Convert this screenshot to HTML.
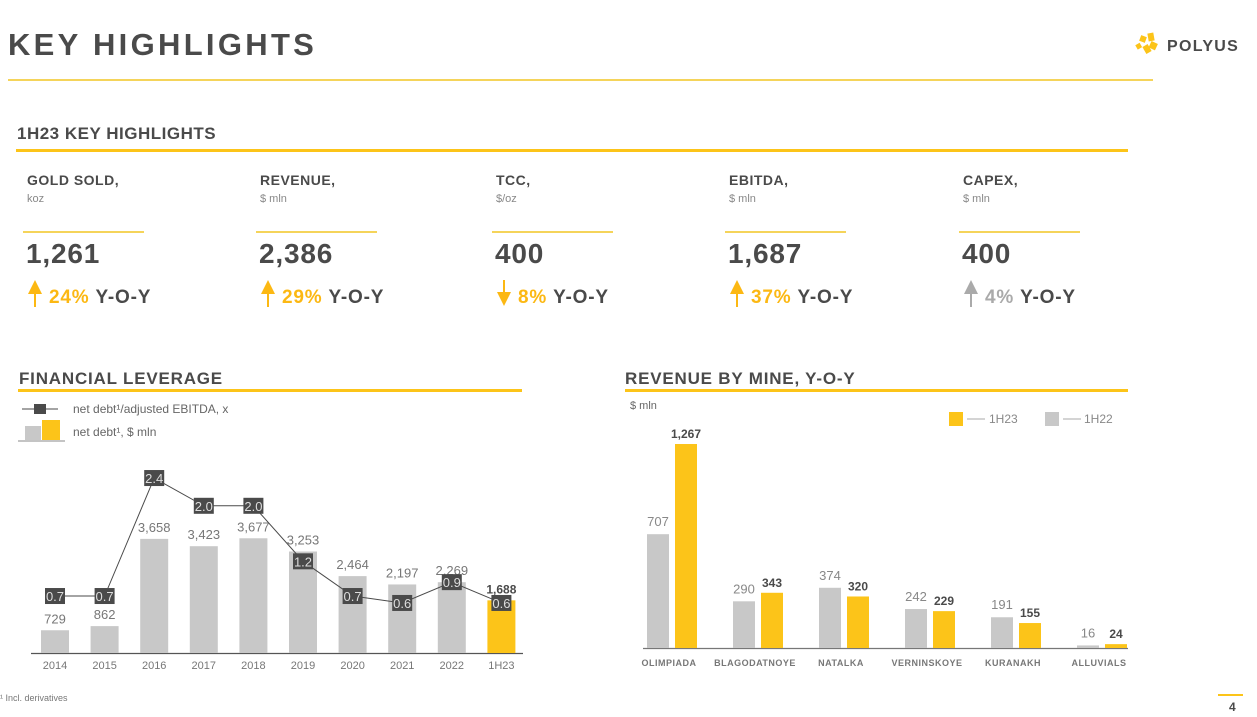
<!DOCTYPE html>
<html><head><meta charset="utf-8"><style>
body{margin:0;background:#fff;}
svg{display:block;font-family:"Liberation Sans",sans-serif;}
</style></head><body>
<svg id="page" width="1257" height="717" viewBox="0 0 1257 717">
<text x="8" y="55" font-size="31" font-weight="bold" fill="#4a4a4a" letter-spacing="3.3">KEY HIGHLIGHTS</text>
<g>
<rect x="1140" y="36" width="6" height="6" fill="#fcc419" transform="rotate(20 1143 39)"/>
<rect x="1148" y="33" width="6" height="8" fill="#fcc419" transform="rotate(-10 1151 37)"/>
<rect x="1150" y="42" width="7" height="7" fill="#fcc419" transform="rotate(25 1153 45)"/>
<rect x="1144" y="45" width="6" height="8" fill="#fcc419" transform="rotate(-30 1147 49)"/>
<rect x="1136" y="44" width="5" height="5" fill="#fcc419" transform="rotate(-30 1138 46)"/>
<text x="1167" y="51" font-size="16" font-weight="bold" fill="#4a4a4a" letter-spacing="1.3">POLYUS</text>
</g>
<rect x="8" y="79" width="1145" height="2" fill="#f5d45a"/>
<text x="17" y="139" font-size="17" font-weight="bold" fill="#4a4a4a" letter-spacing="0.5">1H23 KEY HIGHLIGHTS</text>
<rect x="16" y="149" width="1112" height="3" fill="#fcc419"/>
<g id="kpis"></g>
<text x="19" y="384" font-size="17" font-weight="bold" fill="#4a4a4a" letter-spacing="0.8">FINANCIAL LEVERAGE</text>
<rect x="18" y="389" width="504" height="3" fill="#fcc419"/>
<text x="625" y="384" font-size="17" font-weight="bold" fill="#4a4a4a" letter-spacing="0.8">REVENUE BY MINE, Y-O-Y</text>
<rect x="625" y="389" width="503" height="3" fill="#fcc419"/>
<g>
<line x1="22" y1="409" x2="58" y2="409" stroke="#4a4a4a" stroke-width="1"/>
<rect x="34" y="404" width="12" height="10" fill="#4a4a4a"/>
<text x="73" y="413" font-size="12" fill="#666">net debt¹/adjusted EBITDA, x</text>
<rect x="25" y="426" width="16" height="14" fill="#c8c8c8"/>
<rect x="42" y="420" width="18" height="20" fill="#fcc419"/>
<line x1="18" y1="441" x2="65" y2="441" stroke="#888"/>
<text x="73" y="436" font-size="12" fill="#666">net debt¹, $ mln</text>
</g>
<g id="lev"></g>
<text x="630" y="409" font-size="11" fill="#666">$ mln</text>
<g>
<rect x="949" y="412" width="14" height="14" fill="#fcc419"/>
<line x1="967" y1="419" x2="985" y2="419" stroke="#aaa"/>
<text x="989" y="423" font-size="12" fill="#888">1H23</text>
<rect x="1045" y="412" width="14" height="14" fill="#c8c8c8"/>
<line x1="1063" y1="419" x2="1081" y2="419" stroke="#aaa"/>
<text x="1084" y="423" font-size="12" fill="#888">1H22</text>
</g>
<g id="rev"></g>
<text x="0" y="701" font-size="9" fill="#777">¹ Incl. derivatives</text>
<rect x="1218" y="694" width="25" height="2" fill="#fcc419"/>
<text x="1229" y="711" font-size="12" font-weight="bold" fill="#4a4a4a">4</text>
</svg>
<script>
const NS="http://www.w3.org/2000/svg";
function mk(p,t,a,txt){const e=document.createElementNS(NS,t);for(const k in a)e.setAttribute(k,a[k]);if(txt!==undefined)e.textContent=txt;p.appendChild(e);return e;}

// KPI data
const kpiLabels=["GOLD SOLD,","REVENUE,","TCC,","EBITDA,","CAPEX,"];
const kpiUnits=["koz","$ mln","$/oz","$ mln","$ mln"];
const kpiValues=["1,261","2,386","400","1,687","400"];
const kpiChanges=["24%","29%","8%","37%","4%"];
const kpiDirs=["up","up","down","up","up-gray"];
const kpiX=[27,260,496,729,963];
const kg=document.getElementById('kpis');
kpiLabels.forEach((l,i)=>{
  const x=kpiX[i];
  const g=mk(kg,'g',{});
  
  
  mk(g,'text',{x:x,y:185,'font-size':14,'font-weight':'bold',fill:'#4a4a4a','letter-spacing':0.5},l);
  mk(g,'text',{x:x,y:202,'font-size':11,fill:'#888'},kpiUnits[i]);
  mk(g,'rect',{x:x-4,y:231,width:121,height:2,fill:'#f5d45a'});
  mk(g,'text',{x:x-1,y:263,'font-size':28,'font-weight':'bold',fill:'#4a4a4a','letter-spacing':0.8},kpiValues[i]);
  const col=kpiDirs[i]==='up-gray'?'#aaa':'#fcb813';
  const ax=x+8;
  if(kpiDirs[i]==='down'){
    mk(g,'line',{x1:ax,y1:280,x2:ax,y2:296,stroke:col,'stroke-width':2});
    mk(g,'polygon',{points:`${ax-7},292 ${ax+7},292 ${ax},306`,fill:col});
  }else{
    mk(g,'polygon',{points:`${ax-7},294 ${ax+7},294 ${ax},280`,fill:col});
    mk(g,'line',{x1:ax,y1:292,x2:ax,y2:307,stroke:col,'stroke-width':2});
  }
  const t=mk(g,'text',{x:x+22,y:303,'font-size':19,'font-weight':'bold',fill:col,'letter-spacing':0.8},kpiChanges[i]);
  mk(t,'tspan',{fill:'#4a4a4a',dx:6},'Y-O-Y');
});

// Leverage chart data
const levCats=["2014","2015","2016","2017","2018","2019","2020","2021","2022","1H23"];
const levDebt=[729,862,3658,3423,3677,3253,2464,2197,2269,1688];
const levRatio=[0.7,0.7,2.4,2.0,2.0,1.2,0.7,0.6,0.9,0.6];
const levRatioLabels=["0.7","0.7","2.4","2.0","2.0","1.2","0.7","0.6","0.9","0.6"];
const levDebtLabels=["729","862","3,658","3,423","3,677","3,253","2,464","2,197","2,269","1,688"];
const lg=document.getElementById('lev');
const lx=i=>55+i*49.6, lyB=v=>653-v*0.0312, lyR=v=>644.6-v*69.4;
mk(lg,'line',{x1:31,y1:653.5,x2:523,y2:653.5,stroke:'#555','stroke-width':1.2});
levCats.forEach((c,i)=>{
  const last=i===levCats.length-1;
  const b=mk(lg,'rect',{x:lx(i)-14,y:lyB(levDebt[i]),width:28,height:653-lyB(levDebt[i]),fill:last?'#fcc419':'#c8c8c8'});
  
  
  mk(lg,'text',{x:lx(i),y:lyB(levDebt[i])-7,'font-size':last?12:13,'font-weight':last?'bold':'normal',fill:last?'#4a4a4a':'#777','text-anchor':'middle'},levDebtLabels[i]);
  mk(lg,'text',{x:lx(i),y:669,'font-size':11,fill:'#777','text-anchor':'middle'},c);
});
const pts=levRatio.map((v,i)=>lx(i)+','+lyR(v)).join(' ');
const pl=mk(lg,'polyline',{points:pts,fill:'none',stroke:'#4a4a4a','stroke-width':1});


levRatio.forEach((v,i)=>{
  const bx=mk(lg,'rect',{x:lx(i)-10,y:lyR(v)-8,width:20,height:16,fill:'#4a4a4a'});
  
  
  mk(lg,'text',{x:lx(i),y:lyR(v)+5,'font-size':13,fill:'#ddd','text-anchor':'middle'},levRatioLabels[i]);
});

// Revenue chart data
const revCats=["OLIMPIADA","BLAGODATNOYE","NATALKA","VERNINSKOYE","KURANAKH","ALLUVIALS"];
const rev1H22=[707,290,374,242,191,16];
const rev1H23=[1267,343,320,229,155,24];
const rev1H22Labels=["707","290","374","242","191","16"];
const rev1H23Labels=["1,267","343","320","229","155","24"];
const rg=document.getElementById('rev');
const gx=i=>672+i*86, ry=v=>648-v*0.161;
mk(rg,'line',{x1:643,y1:648.5,x2:1128,y2:648.5,stroke:'#777','stroke-width':1.2});
revCats.forEach((c,i)=>{
  const a=mk(rg,'rect',{x:gx(i)-25,y:ry(rev1H22[i]),width:22,height:648-ry(rev1H22[i]),fill:'#c8c8c8'});
  
  
  const b=mk(rg,'rect',{x:gx(i)+3,y:ry(rev1H23[i]),width:22,height:648-ry(rev1H23[i]),fill:'#fcc419'});
  
  
  mk(rg,'text',{x:gx(i)-14,y:ry(rev1H22[i])-8,'font-size':13,fill:'#888','text-anchor':'middle'},rev1H22Labels[i]);
  mk(rg,'text',{x:gx(i)+14,y:ry(rev1H23[i])-6,'font-size':12,'font-weight':'bold',fill:'#4a4a4a','text-anchor':'middle'},rev1H23Labels[i]);
  mk(rg,'text',{x:gx(i)-3,y:666,'font-size':9,'font-weight':'bold',fill:'#777','text-anchor':'middle','letter-spacing':0.5},c);
});
</script>
</body></html>
